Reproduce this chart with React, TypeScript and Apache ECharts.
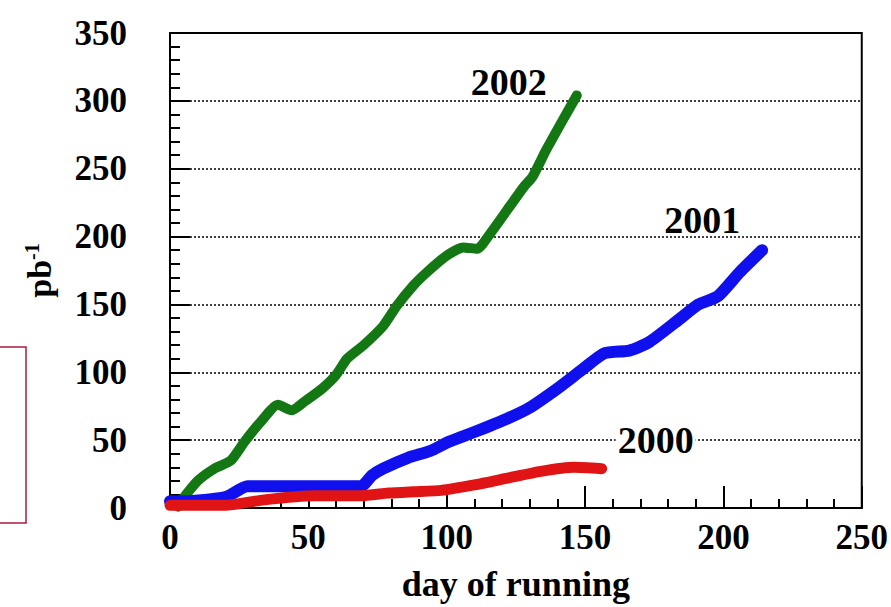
import React, { useEffect, useRef } from "react";
import * as echarts from "echarts";

const days2002 = [3, 4, 10, 16, 22, 27, 33, 39, 44, 49, 55, 60, 64, 70, 77, 82, 88, 93, 100, 106, 111, 116, 122, 128, 131, 136, 142, 147];
const lumi2002 = [1, 5, 20, 29, 35, 49, 64, 76, 72, 79, 88, 98, 110, 120, 134, 149, 164, 174, 186, 192, 191, 203, 220, 237, 244, 264, 286, 304];

const days2001 = [0, 5, 20, 28, 69, 73, 77, 86, 94, 101, 110, 122, 130, 140, 149, 157, 166, 173, 184, 191, 198, 206, 214];
const lumi2001 = [5, 5, 8, 16, 16, 24, 29, 37, 42, 49, 56, 66, 74, 88, 102, 114, 116, 122, 139, 150, 156, 174, 190];

const days2000 = [0, 20, 34, 52, 69, 79, 88, 98, 110, 122, 134, 146, 156];
const lumi2000 = [2, 2, 6, 9, 9, 11, 12, 13, 17, 22, 27, 30, 29];

const xTicks = [0, 50, 100, 150, 200, 250];
const yTicks = [0, 50, 100, 150, 200, 250, 300, 350];

const FONT = "'Liberation Serif', 'Times New Roman', serif";

function pairs(xs: number[], ys: number[]) {
  return xs.map((x, i) => [x, ys[i]]);
}

function seriesFor(name: string, xs: number[], ys: number[], color: string, width: number, offset: number[], bg?: string) {
  const last = [xs[xs.length - 1], ys[ys.length - 1]];
  return {
    name,
    type: "line",
    data: pairs(xs, ys),
    showSymbol: false,
    smooth: 0.2,
    lineStyle: { color, width, cap: "round", join: "round" },
    itemStyle: { color },
    markPoint: {
      symbol: "circle",
      symbolSize: 0,
      silent: true,
      data: [
        {
          coord: last,
          label: {
            show: true,
            formatter: name,
            position: "inside",
            offset,
            color: "#000",
            fontFamily: FONT,
            fontWeight: "bold",
            fontSize: 38,
            backgroundColor: bg,
            padding: bg ? [0, 2] : 0,
          },
        },
      ],
    },
  };
}

export default function App() {
  const ref = useRef<HTMLDivElement>(null);
  useEffect(() => {
    if (!ref.current) return;
    const chart = echarts.init(ref.current, null, { renderer: "svg" });
    chart.setOption({
      animation: false,
      backgroundColor: "#fff",
      grid: {
        left: 170,
        top: 33,
        right: 29,
        bottom: 97,
        show: true,
        borderColor: "#000",
        borderWidth: 2,
        backgroundColor: "transparent",
      },
      xAxis: {
        type: "value",
        min: xTicks[0],
        max: xTicks[xTicks.length - 1],
        interval: 50,
        name: "day of running",
        nameLocation: "middle",
        nameGap: 58,
        nameTextStyle: { fontFamily: FONT, fontWeight: "bold", fontSize: 36, color: "#000" },
        axisLine: { show: true, lineStyle: { color: "#000", width: 2 } },
        axisTick: { show: true, inside: true, length: 22, lineStyle: { color: "#000", width: 2 } },
        minorTick: { show: true, splitNumber: 5, length: 9, lineStyle: { color: "#000", width: 2 } },
        splitLine: { show: false },
        axisLabel: { margin: 12, fontFamily: FONT, fontWeight: "bold", fontSize: 35, color: "#000" },
      },
      yAxis: {
        type: "value",
        min: yTicks[0],
        max: yTicks[yTicks.length - 1],
        interval: 50,
        name: "{a|pb}{s|-1}",
        nameLocation: "middle",
        nameGap: 114,
        nameTextStyle: {
          fontFamily: FONT,
          fontWeight: "bold",
          color: "#000",
          rich: {
            a: { fontFamily: FONT, fontWeight: "bold", fontSize: 34, color: "#000" },
            s: { fontFamily: FONT, fontWeight: "bold", fontSize: 20, color: "#000", verticalAlign: "top", padding: [0, 0, 14, 0] },
          },
        },
        axisLine: { show: true, lineStyle: { color: "#000", width: 2 } },
        axisTick: { show: true, inside: true, length: 20, lineStyle: { color: "#000", width: 2 } },
        minorTick: { show: true, splitNumber: 5, length: 10, lineStyle: { color: "#000", width: 2 } },
        splitLine: { show: true, lineStyle: { color: "#000", width: 1.5, type: [2, 2] } },
        axisLabel: { margin: 43, fontFamily: FONT, fontWeight: "bold", fontSize: 35, color: "#000" },
      },
      series: [
        seriesFor("2002", days2002, lumi2002, "#137813", 10, [-68, -13]),
        seriesFor("2001", days2001, lumi2001, "#1010ee", 12, [-60, -30]),
        seriesFor("2000", days2000, lumi2000, "#e01414", 11, [54, -29], "#fff"),
      ],
      graphic: [
        {
          type: "rect",
          shape: { x: -2, y: 347, width: 28, height: 176 },
          style: { fill: "none", stroke: "#b01a3c", lineWidth: 1.5 },
          silent: true,
        },
      ],
    });
    return () => chart.dispose();
  }, []);
  return <div ref={ref} style={{ position: "fixed", left: 0, top: 0, width: 891, height: 607 }} />;
}
